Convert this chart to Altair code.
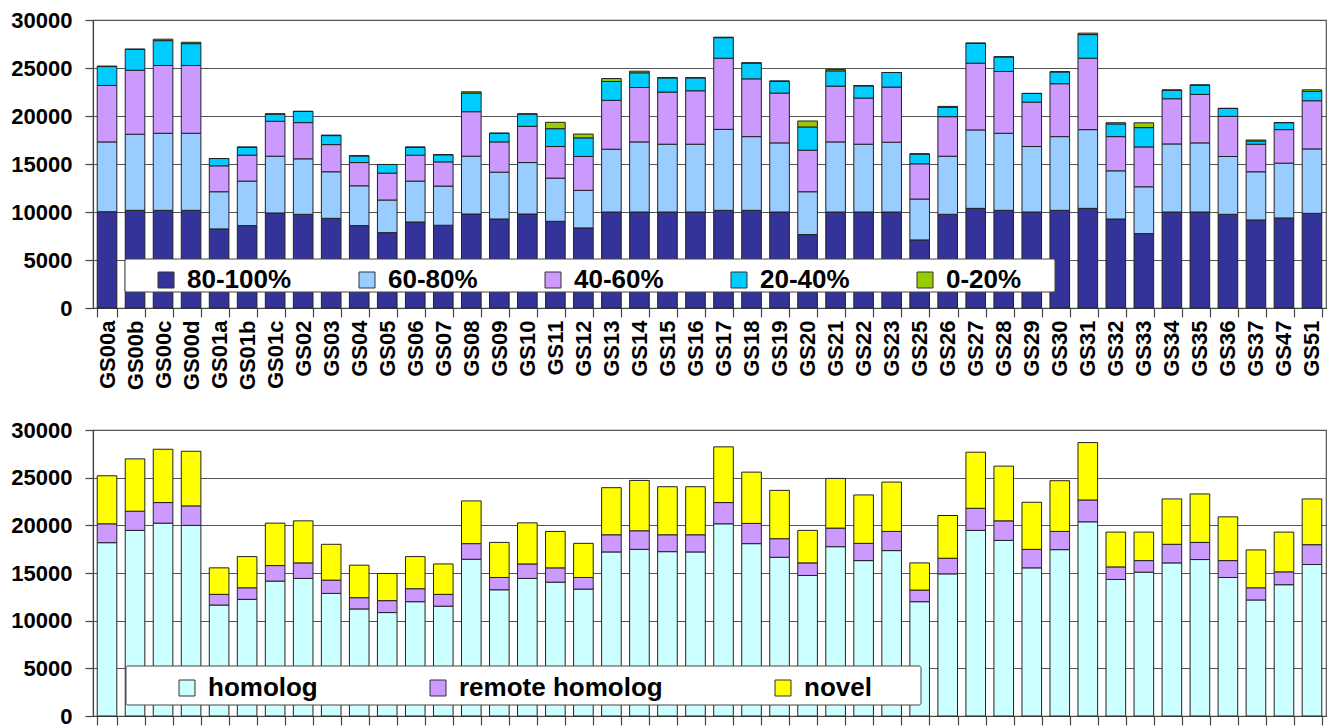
import altair as alt
import pandas as pd

samples = ["GS00a", "GS00b", "GS00c", "GS00d", "GS01a", "GS01b", "GS01c", "GS02", "GS03", "GS04",
           "GS05", "GS06", "GS07", "GS08", "GS09", "GS10", "GS11", "GS12", "GS13", "GS14",
           "GS15", "GS16", "GS17", "GS18", "GS19", "GS20", "GS21", "GS22", "GS23", "GS25",
           "GS26", "GS27", "GS28", "GS29", "GS30", "GS31", "GS32", "GS33", "GS34", "GS35",
           "GS36", "GS37", "GS47", "GS51"]

# Top panel: identity classes
id_80_100 = [10030, 10170, 10170, 10170, 8240, 8580, 9900, 9760, 9340, 8580,
             7850, 8960, 8620, 9790, 9270, 9790, 9030, 8340, 10000, 10000,
             10000, 10000, 10170, 10170, 10000, 7650, 10000, 10000, 10000, 7090,
             9760, 10380, 10170, 10000, 10170, 10380, 9270, 7750, 10000, 10000,
             9760, 9170, 9380, 9860]
id_60_80 = [7270, 7930, 8030, 8030, 3870, 4640, 5910, 5780, 4850, 4150,
            3400, 4260, 4080, 6020, 4880, 5360, 4500, 3910, 6540, 7300,
            7060, 7060, 8440, 7680, 7200, 4460, 7300, 7060, 7270, 4260,
            6050, 8170, 8030, 6820, 7680, 8200, 5020, 4880, 7090, 7200,
            6020, 5020, 5710, 6710]
id_40_60 = [5880, 6670, 7060, 7060, 2700, 2700, 3640, 3770, 2830, 2420,
            2800, 2700, 2520, 4640, 3150, 3780, 3290, 3530, 5090, 5670,
            5430, 5570, 7410, 6020, 5190, 4330, 5810, 4810, 5740, 3670,
            4120, 6950, 6440, 4630, 5510, 7440, 3560, 4150, 4710, 5050,
            4180, 2870, 3490, 5020]
id_20_40 = [1970, 2180, 2590, 2280, 760, 830, 760, 1170, 940, 700,
            900, 830, 750, 1940, 900, 1280, 1860, 1940, 1970, 1530,
            1490, 1350, 2140, 1660, 1240, 2420, 1590, 1280, 1520, 1030,
            970, 2080, 1520, 900, 1240, 2460, 1320, 2010, 900, 970,
            830, 340, 730, 970]
id_0_20 = [50, 0, 150, 140, 0, 0, 0, 0, 50, 0,
           0, 0, 0, 130, 0, 0, 660, 400, 300, 170,
           0, 0, 50, 0, 0, 620, 150, 0, 0, 0,
           100, 0, 0, 0, 0, 150, 130, 500, 0, 0,
           0, 100, 0, 170]

top_series = ["80-100%", "60-80%", "40-60%", "20-40%", "0-20%"]
top_colors = ["#333399", "#99CCFF", "#CC99FF", "#00CCFF", "#99CC00"]

# Bottom panel: homology classes
homolog = [18180, 19470, 20230, 19990, 11640, 12240, 14150, 14430, 12860, 11230,
           10850, 11990, 11520, 16440, 13240, 14430, 14040, 13310, 17210, 17480,
           17240, 17210, 20160, 18080, 16650, 14740, 17760, 16300, 17350, 11990,
           14910, 19470, 18420, 15540, 17450, 20370, 14320, 15090, 16060, 16410,
           14530, 12170, 13770, 15890]
remote_homolog = [1980, 2010, 2160, 2050, 1120, 1210, 1630, 1630, 1390, 1180,
                  1250, 1360, 1240, 1640, 1290, 1520, 1500, 1220, 1800, 1950,
                  1770, 1800, 2230, 2120, 1950, 1320, 1950, 1810, 2010, 1220,
                  1640, 2320, 2050, 1940, 1910, 2290, 1320, 1210, 1950, 1800,
                  1770, 1280, 1350, 2080]
novel = [5040, 5490, 5590, 5730, 2780, 3270, 4450, 4410, 3760, 3410,
         2850, 3370, 3190, 4480, 3680, 4310, 3820, 3580, 4940, 5280,
         5040, 5040, 5840, 5380, 5070, 3410, 5210, 5080, 5180, 2850,
         4480, 5880, 5740, 4940, 5320, 6020, 3650, 2990, 4760, 5080,
         4590, 3970, 4170, 4800]

bottom_series = ["homolog", "remote homolog", "novel"]
bottom_colors = ["#CCFFFF", "#CC99FF", "#FFFF00"]

y_ticks = [0, 5000, 10000, 15000, 20000, 25000, 30000]


def long_table(series_names, series_values):
    rows = []
    for i, s in enumerate(samples):
        for k, (name, vals) in enumerate(zip(series_names, series_values)):
            rows.append({"sample": s, "series": name, "value": vals[i], "k": k})
    return pd.DataFrame(rows)


top_df = long_table(top_series, [id_80_100, id_60_80, id_40_60, id_20_40, id_0_20])
bottom_df = long_table(bottom_series, [homolog, remote_homolog, novel])

W = 1233
FONT = "Liberation Sans"


def panel(df, names, colors, show_labels, height, leg_x, leg_y, col_pad, box):
    x_axis = alt.Axis(
        title=None, labelAngle=-90, tickBand="extent", grid=False,
        labels=show_labels, labelPadding=3, tickSize=9,
    )
    bars = alt.Chart(df).mark_bar(stroke="#222222", strokeWidth=1).encode(
        x=alt.X("sample:N", sort=samples,
                scale=alt.Scale(paddingInner=0.3, paddingOuter=0.15),
                axis=x_axis),
        y=alt.Y("value:Q", stack="zero",
                scale=alt.Scale(domain=[0, 30000], nice=False),
                axis=alt.Axis(title=None, values=y_ticks, format="d", grid=True,
                              labelPadding=13, tickSize=8)),
        color=alt.Color("series:N",
                        scale=alt.Scale(domain=names, range=colors),
                        legend=alt.Legend(
                            orient="none", legendX=leg_x, legendY=leg_y,
                            direction="horizontal", title=None,
                            symbolType="square", symbolSize=256,
                            symbolStrokeColor="#333333", symbolStrokeWidth=1,
                            labelFont=FONT, labelFontWeight="bold",
                            labelFontSize=26, labelColor="black",
                            labelOffset=8, columnPadding=col_pad,
                            padding=0, labelLimit=0)),
        order=alt.Order("k:Q", sort="ascending"),
    )
    frame = alt.Chart(pd.DataFrame({"box": [0]})).mark_rect(
        fill="white", stroke="#444444", strokeWidth=1, cornerRadius=2
    ).encode(
        x=alt.value(box[0]), x2=alt.value(box[1]),
        y=alt.value(box[2]), y2=alt.value(box[3]),
    )
    return alt.layer(bars, frame).properties(width=W, height=height)


top = panel(top_df, top_series, top_colors, True, 288, 60, 247, 62, (32, 962, 239, 272))
bottom = panel(bottom_df, bottom_series, bottom_colors, False, 286, 81, 245, 107, (33, 828, 236, 275))

chart = alt.vconcat(top, bottom, spacing=27).resolve_scale(
    color="independent"
).resolve_legend(
    color="independent"
).properties(
    padding={"left": 2, "top": 0, "right": 0, "bottom": 0}
).configure_axis(
    labelFont=FONT, labelFontWeight="bold", labelFontSize=22, labelColor="black",
    domainColor="#444444", tickColor="#444444", gridColor="#555555",
    gridWidth=1.2, domainWidth=1.2, tickWidth=1.2,
).configure_view(stroke="#555555", strokeWidth=1.2)

chart.save("out.html", embed_options={"renderer": "svg", "actions": False})
